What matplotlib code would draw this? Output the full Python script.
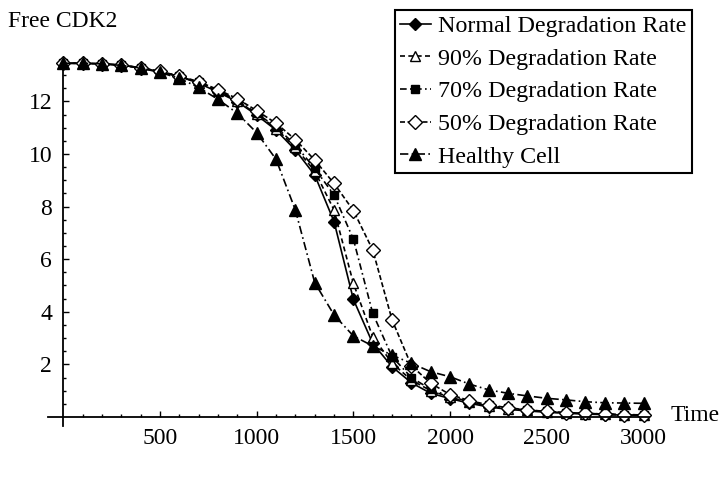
import matplotlib.pyplot as plt

plt.rcParams['font.family'] = ['Liberation Serif', 'DejaVu Serif']

# time points (every 100)
time = list(range(0, 3001, 100))

normal = [13.45, 13.45, 13.43, 13.38, 13.28, 13.13, 12.95, 12.70, 12.35, 11.99,
          11.48, 10.91, 10.15, 9.20, 7.43, 4.47, 2.80, 1.91, 1.30, 0.90,
          0.70, 0.52, 0.38, 0.29, 0.23, 0.18, 0.14, 0.11, 0.09, 0.07, 0.06]
deg90 = [13.45, 13.45, 13.43, 13.38, 13.28, 13.13, 12.95, 12.70, 12.38, 12.02,
         11.52, 10.97, 10.25, 9.35, 7.87, 5.08, 3.05, 2.05, 1.40, 1.00,
         0.75, 0.56, 0.42, 0.32, 0.25, 0.20, 0.16, 0.13, 0.10, 0.08, 0.07]
deg70 = [13.45, 13.45, 13.43, 13.38, 13.28, 13.13, 12.95, 12.72, 12.40, 12.05,
         11.55, 11.02, 10.35, 9.45, 8.44, 6.76, 3.94, 2.29, 1.50, 1.05,
         0.78, 0.58, 0.44, 0.34, 0.26, 0.21, 0.17, 0.14, 0.11, 0.09, 0.08]
deg50 = [13.45, 13.45, 13.43, 13.38, 13.28, 13.14, 12.97, 12.75, 12.45, 12.10,
         11.65, 11.17, 10.55, 9.77, 8.88, 7.85, 6.35, 3.69, 1.95, 1.28,
         0.85, 0.62, 0.46, 0.35, 0.27, 0.21, 0.17, 0.14, 0.11, 0.09, 0.08]
healthy = [13.45, 13.45, 13.43, 13.37, 13.27, 13.10, 12.88, 12.53, 12.08, 11.55,
           10.81, 9.80, 7.87, 5.11, 3.88, 3.08, 2.70, 2.35, 2.04, 1.72,
           1.53, 1.25, 1.03, 0.90, 0.80, 0.71, 0.65, 0.58, 0.54, 0.53, 0.52]

labels = ['Normal Degradation Rate', '90% Degradation Rate', '70% Degradation Rate',
          '50% Degradation Rate', 'Healthy Cell']

fig = plt.figure(figsize=(7.23, 4.82), dpi=100)
ax = fig.add_axes([0.0661, 0.1158, 0.8320, 0.7529])

ax.plot(time, normal, color='black', lw=1.2, ls='-', marker='D', ms=6,
        label=labels[0], clip_on=False)
ax.plot(time, deg90, color='black', lw=1.2, ls=(0, (3, 2)), marker='^', ms=7,
        mfc='white', mec='black', label=labels[1], clip_on=False)
ax.plot(time, deg70, color='black', lw=1.2, ls=(0, (4, 2, 1, 2)), marker='s', ms=5.5,
        label=labels[2], clip_on=False)
ax.plot(time, deg50, color='black', lw=1.2, ls=(0, (3, 1.5)), marker='D', ms=7,
        mfc='white', mec='black', label=labels[3], clip_on=False)
ax.plot(time, healthy, color='black', lw=1.2, ls=(0, (5, 2, 1, 2)), marker='^', ms=8,
        label=labels[4], clip_on=False)

ax.set_xlim(-80, 3030)
ax.set_ylim(-0.35, 13.45)

for s in ['top', 'right']:
    ax.spines[s].set_visible(False)
ax.spines['left'].set_position(('data', 0))
ax.spines['bottom'].set_position(('data', 0))
ax.spines['left'].set_linewidth(1.3)
ax.spines['bottom'].set_linewidth(1.3)

ax.set_xticks([500, 1000, 1500, 2000, 2500, 3000])
ax.set_xticks(list(range(100, 3001, 100)), minor=True)
ax.set_yticks([2, 4, 6, 8, 10, 12])
ax.set_yticks([v * 0.5 for v in range(1, 27)], minor=True)
ax.tick_params(which='both', direction='in', width=1.0, labelsize=17)
ax.tick_params(which='major', length=4, pad=8)
ax.tick_params(which='minor', length=2.2)

fig.text(0.011, 0.955, 'Free CDK2', fontsize=17, ha='left', va='center')
fig.text(0.928, 0.139, 'Time', fontsize=17, ha='left', va='center')

leg = ax.legend(loc='upper right', bbox_to_anchor=(0.957, 0.979),
                bbox_transform=fig.transFigure, fontsize=17.3, frameon=True,
                fancybox=False, borderaxespad=0, borderpad=0.22,
                handlelength=1.3, handletextpad=0.3, labelspacing=0.45,
                framealpha=1)
leg.get_frame().set_edgecolor('black')
leg.get_frame().set_linewidth(1.5)

fig.savefig('out.png', dpi=100)
